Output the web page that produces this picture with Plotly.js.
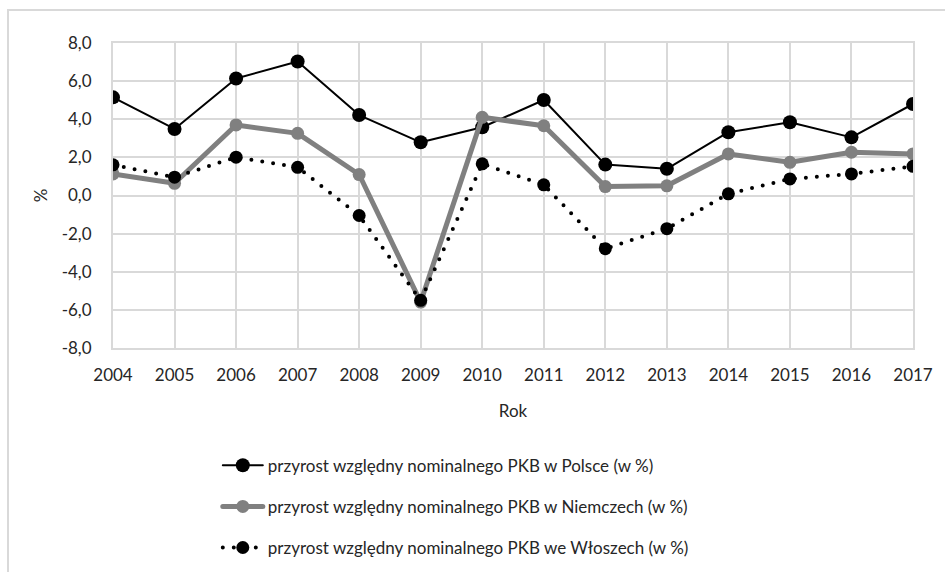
<!DOCTYPE html>
<html>
<head>
<meta charset="utf-8">
<script src="https://cdn.plot.ly/plotly-3.0.1.min.js"></script>
<style>
  html, body { margin: 0; padding: 0; background: #fff; }
  #wrap { position: relative; width: 945px; height: 572px; overflow: hidden; }
  #chart { width: 945px; height: 572px; }
  #frame { position: absolute; left: 7px; top: 9px; width: 1000px; height: 700px;
           border-top: 2px solid #d9d9d9; border-left: 2px solid #d9d9d9; pointer-events: none; }
  path.js-line { stroke-linecap: round !important; stroke-linejoin: round !important; }
</style>
</head>
<body>
<div id="wrap">
  <div id="chart"></div>
  <div id="frame"></div>
</div>
<script>
const years = ['2004','2005','2006','2007','2008','2009','2010','2011','2012','2013','2014','2015','2016','2017'];
const poland  = [5.15, 3.49, 6.14, 7.03, 4.22, 2.79, 3.58, 5.01, 1.62, 1.40, 3.32, 3.84, 3.05, 4.80];
const germany = [1.13, 0.64, 3.70, 3.26, 1.10, -5.59, 4.10, 3.66, 0.47, 0.51, 2.18, 1.74, 2.27, 2.18];
const italy   = [1.61, 0.96, 2.01, 1.48, -1.05, -5.50, 1.66, 0.56, -2.79, -1.74, 0.09, 0.87, 1.13, 1.53];
const names = [
  'przyrost względny nominalnego PKB w Polsce (w %)',
  'przyrost względny nominalnego PKB w Niemczech (w %)',
  'przyrost względny nominalnego PKB we Włoszech (w %)'
];
const yTickVals = [-8, -6, -4, -2, 0, 2, 4, 6, 8];
const yTickText = ['-8,0', '-6,0', '-4,0', '-2,0', '0,0', '2,0', '4,0', '6,0', '8,0'];

const FONT = 'Lato, "Open Sans", sans-serif';
const data = [
  { x: years, y: poland, name: names[0], type: 'scatter', mode: 'lines+markers',
    legendgroup: 'a',
    line: { color: '#000000', width: 2 },
    marker: { color: '#000000', size: 14, symbol: 'circle' } },
  { x: years, y: germany, name: names[1], type: 'scatter', mode: 'lines+markers',
    legendgroup: 'b',
    line: { color: '#808080', width: 5 },
    marker: { color: '#808080', size: 13, symbol: 'circle' } },
  { x: years, y: italy, name: names[2], type: 'scatter', mode: 'lines+markers',
    legendgroup: 'c',
    line: { color: '#000000', width: 4, dash: '0px,11px' },
    marker: { color: '#000000', size: 13, symbol: 'circle' } }
];

const layout = {
  width: 945, height: 572,
  paper_bgcolor: '#ffffff', plot_bgcolor: '#ffffff',
  margin: { l: 113, r: 32, t: 43, b: 224, autoexpand: false },
  font: { family: FONT, size: 17, color: '#262626' },
  showlegend: true,
  xaxis: {
    type: 'category', range: [0, 13], automargin: false,
    showgrid: true, gridcolor: '#d9d9d9', gridwidth: 2,
    showline: true, linecolor: '#d9d9d9', linewidth: 2, mirror: true,
    zeroline: false, ticks: '', ticklabelstandoff: 11,
    tickfont: { family: FONT, size: 17, color: '#262626' },
    title: { text: 'Rok', font: { family: FONT, size: 17, color: '#262626' }, standoff: 21 }
  },
  yaxis: {
    range: [-8, 8], tickvals: yTickVals, ticktext: yTickText, automargin: false,
    showgrid: true, gridcolor: '#d9d9d9', gridwidth: 2,
    showline: true, linecolor: '#d9d9d9', linewidth: 2, mirror: true,
    zeroline: false, ticks: '', ticklabelstandoff: 16,
    tickfont: { family: FONT, size: 17, color: '#262626' },
    title: { text: '%', font: { family: FONT, size: 17, color: '#262626' }, standoff: 10 }
  },
  legend: {
    orientation: 'v', x: 0.131, xanchor: 'left', y: -0.327, yanchor: 'top',
    traceorder: 'grouped', tracegroupgap: 16,
    font: { family: FONT, size: 17, color: '#262626' },
    bgcolor: 'rgba(0,0,0,0)', itemwidth: 40
  }
};

Plotly.newPlot('chart', data, layout, { displayModeBar: false, staticPlot: true });
</script>
</body>
</html>
